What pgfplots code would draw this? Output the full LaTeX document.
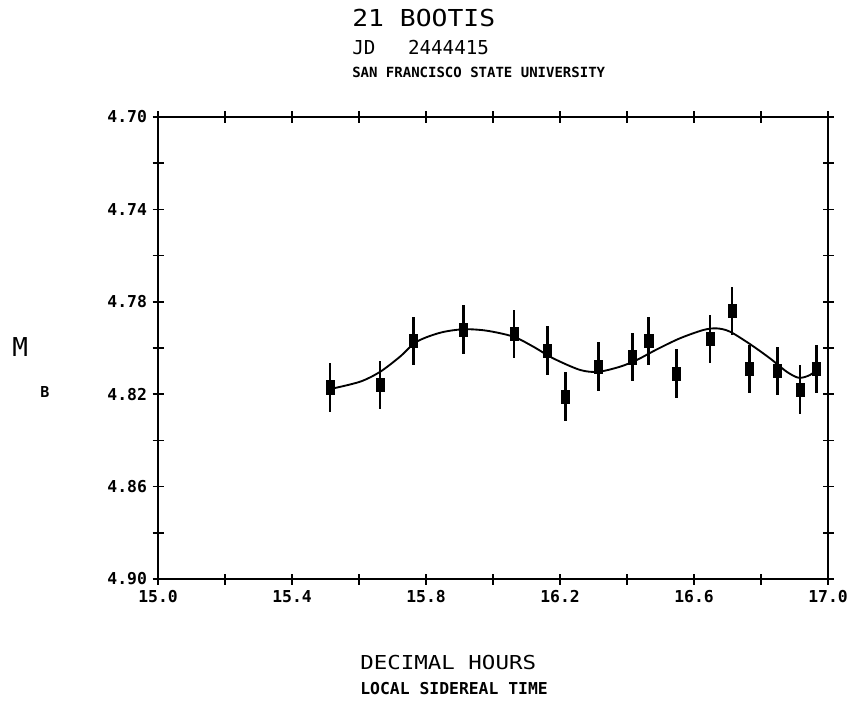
\documentclass[border=0pt]{standalone}
\usepackage{pgfplots}
\pgfplotsset{compat=1.18}
\usepackage{fontspec}
\usepackage{graphicx}
\setmainfont{DejaVu Sans Mono}

\pgfplotstableread{
x       y      e
15.513  4.817  0.0105
15.663  4.816  0.0105
15.762  4.797  0.0105
15.911  4.792  0.0105
16.063  4.794  0.0105
16.163  4.801  0.0105
16.217  4.821  0.0105
16.314  4.808  0.0105
16.416  4.804  0.0105
16.465  4.797  0.0105
16.548  4.811  0.0105
16.648  4.796  0.0105
16.713  4.784  0.0105
16.765  4.809  0.0105
16.849  4.810  0.0105
16.916  4.818  0.0105
16.966  4.809  0.0105
}\obsdata

\pgfplotstableread{
x       y
15.513  4.8178
15.603  4.8146
15.663  4.8103
15.722  4.8038
15.772  4.7973
15.842  4.7934
15.911  4.7919
15.981  4.7925
16.061  4.7951
16.120  4.7994
16.180  4.8045
16.260  4.8095
16.314  4.8103
16.379  4.8081
16.429  4.8052
16.489  4.8006
16.558  4.7958
16.628  4.7922
16.668  4.7915
16.707  4.7929
16.767  4.7983
16.827  4.8045
16.877  4.8103
16.913  4.8129
16.946  4.8117
16.971  4.8088
}\fitdata

\begin{document}
\begin{tikzpicture}[x=0.75pt,y=0.75pt]
\path[use as bounding box] (0,0) rectangle (848,700);
\begin{axis}[
  at={(118.5pt,90.75pt)}, anchor=south west,
  scale only axis, width=502.5pt, height=346.5pt,
  xmin=15, xmax=17, ymin=4.70, ymax=4.90, y dir=reverse,
  xtick={15,15.4,15.8,16.2,16.6,17},
  minor xtick={15.2,15.6,16.0,16.4,16.8},
  ytick={4.70,4.74,4.78,4.82,4.86,4.90},
  minor ytick={4.72,4.76,4.80,4.84,4.88},
  tick align=center, major tick length=8.25pt, minor tick length=8.25pt,
  tick style={black, line width=1.3pt},
  major tick style={black, line width=1.3pt},
  minor tick style={black, line width=1.3pt},
  axis line style={line width=1.5pt},
  /pgf/number format/assume math mode=true,
  ticklabel style={font=\bfseries\fontsize{12.3}{12.3}\selectfont, inner sep=0pt},
  xticklabel style={yshift=-4pt, /pgf/number format/fixed, /pgf/number format/fixed zerofill, /pgf/number format/precision=1},
  yticklabel style={xshift=-4pt, /pgf/number format/fixed, /pgf/number format/fixed zerofill, /pgf/number format/precision=2},
  clip=false,
]
\addplot[black, line width=1.4pt, smooth, no marks] table[x=x,y=y] {\fitdata};
\addplot[black, only marks, mark=square*, mark size=4.9pt,
  mark options={xscale=0.62, fill=black, draw=black},
  error bars/.cd, y dir=both, y explicit, error mark=none,
  error bar style={line width=2pt, black}]
  table[x=x, y=y, y error=e] {\obsdata};
\end{axis}
\node[anchor=base west, inner sep=0pt] at (352,673) {\fontsize{17.5}{17.5}\selectfont\scalebox{1.13}[1]{21 BOOTIS}};
\node[anchor=base west, inner sep=0pt] at (352,645) {\fontsize{14.4}{14.4}\selectfont JD\hspace*{24.5pt}2444415};
\node[anchor=base west, inner sep=0pt] at (352,622) {\bfseries\fontsize{10.5}{10.5}\selectfont SAN FRANCISCO STATE UNIVERSITY};
\node[anchor=base west, inner sep=0pt] at (360,31) {\fontsize{14.4}{14.4}\selectfont\scalebox{1.17}[1]{DECIMAL HOURS}};
\node[anchor=base west, inner sep=0pt] at (360,6) {\bfseries\fontsize{12.3}{12.3}\selectfont LOCAL SIDEREAL TIME};
\node[anchor=base west, inner sep=0pt] at (12,343) {\fontsize{19.5}{19.5}\selectfont M};
\node[anchor=base west, inner sep=0pt] at (40,303) {\bfseries\fontsize{11.3}{11.3}\selectfont B};
\end{tikzpicture}
\end{document}
